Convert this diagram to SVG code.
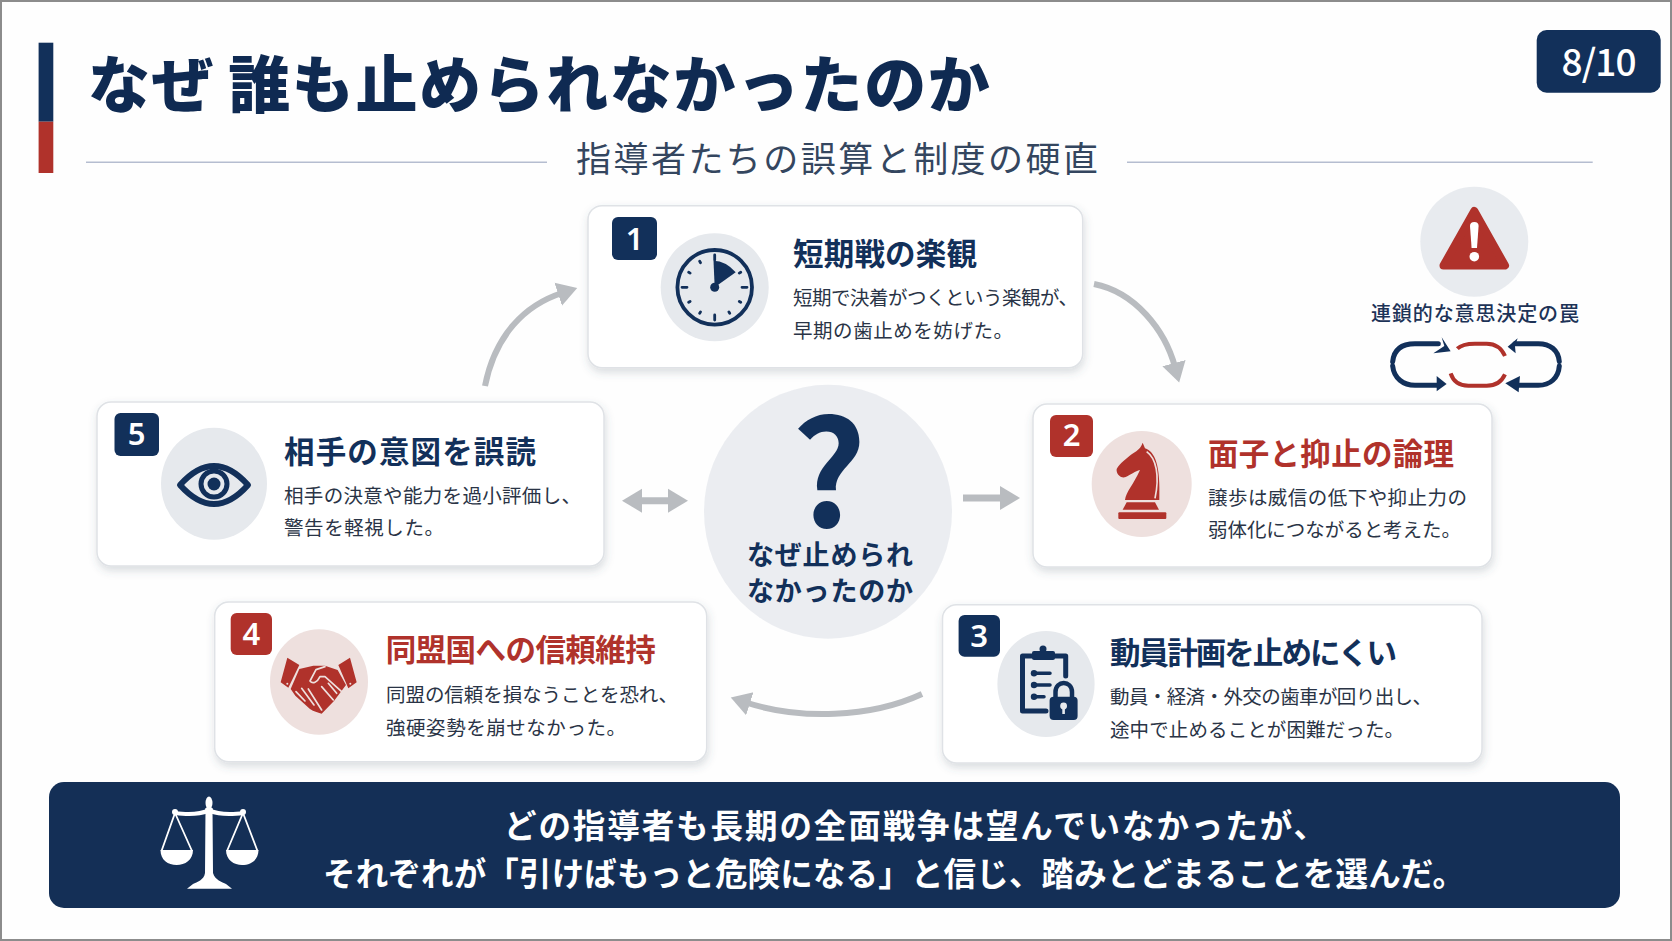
<svg xmlns="http://www.w3.org/2000/svg" width="1672" height="941" viewBox="0 0 1672 941">
<style>
text{font-family:"Noto Sans CJK JP","Noto Sans",sans-serif}
.card{fill:#fff;stroke:#dfe2e6;stroke-width:1.5;filter:url(#sh)}
.navy{fill:#12305a}.red{fill:#b0322b}
.gc{fill:#e6e9ed}.pc{fill:#eee0de}
.num{font-family:"Noto Sans",sans-serif;font-size:31px;font-weight:600;fill:#fff;text-anchor:middle}
.tn{font-size:30.5px;font-weight:700;fill:#12305a}
.tr{font-size:30.5px;font-weight:700;fill:#b0322b}
.body{font-size:19.5px;font-weight:400;fill:#2a3446}
.band{font-size:32.5px;font-weight:700;fill:#fff}
.conn{fill:none;stroke:#b9bcc0;stroke-width:6}
.sl{stroke:#b5bdd0;stroke-width:1.5}
.nl{fill:none;stroke:#12305a;stroke-linecap:round;stroke-linejoin:round}
.wl{fill:none;stroke:#fff;stroke-linecap:round;stroke-linejoin:round}
</style>
<defs>
<filter id="sh" x="-5%" y="-10%" width="110%" height="125%"><feDropShadow dx="1" dy="4" stdDeviation="4" flood-color="#4a5568" flood-opacity="0.2"/></filter>
<marker id="ah" markerUnits="userSpaceOnUse" markerWidth="24" markerHeight="26" refX="4" refY="13" orient="auto-start-reverse"><path d="M0 1L20 13L0 25z" fill="#b9bcc0"/></marker>
</defs>
<rect width="1672" height="941" fill="#fefefe"/>
<g id="header">
<rect x="38.6" y="42.7" width="14.7" height="79" class="navy"/>
<rect x="38.6" y="121.7" width="14.7" height="51.3" class="red"/>
<text x="88" y="108" font-size="62" font-weight="900" fill="#0f2a52" letter-spacing="1.6">なぜ<tspan dx="13">誰も止められなかったのか</tspan></text>
<line x1="86" y1="162.3" x2="547" y2="162.3" class="sl"/>
<line x1="1127" y1="162.3" x2="1592.7" y2="162.3" class="sl"/>
<text x="576" y="172" font-size="35" font-weight="400" fill="#34465f" textLength="522">指導者たちの誤算と制度の硬直</text>
</g>
<g id="page-badge">
<rect x="1536.7" y="30" width="124" height="62.7" rx="10" class="navy"/>
<text x="1599" y="76" font-family="Noto Sans" font-size="37" font-weight="500" fill="#fff" text-anchor="middle" textLength="75">8/10</text>
</g>
<g id="connectors">
<path class="conn" marker-end="url(#ah)" d="M485 386C495 335 525 305 562 293"/>
<path class="conn" marker-end="url(#ah)" d="M1094 284C1135 292 1165 330 1175 367"/>
<path class="conn" marker-end="url(#ah)" d="M922 694C870 718 800 720 746 702.5"/>
<path class="conn" style="stroke-width:7" marker-start="url(#ah)" marker-end="url(#ah)" d="M638 500.7H672"/>
<path class="conn" style="stroke-width:7" marker-end="url(#ah)" d="M963 498H1004"/>
</g>
<g id="node-center">
<ellipse cx="828" cy="511.7" rx="124" ry="127" class="gc" fill-opacity="0.8"/>
<text x="829" y="527" font-family="Lato" font-size="146" font-weight="700" text-anchor="middle" fill="#12305a">?</text>
<text x="747" y="565" font-size="27" font-weight="700" fill="#12305a" textLength="166">なぜ止められ</text>
<text x="747" y="600.7" font-size="27" font-weight="700" fill="#12305a" textLength="166">なかったのか</text>
</g>
<g id="node-1">
<rect x="588" y="205.7" width="494.7" height="162" rx="14" class="card"/>
<rect x="612" y="217" width="45" height="43" rx="6" class="navy"/>
<text x="634.5" y="250" class="num">1</text>
<circle cx="714.7" cy="287.3" r="54" class="gc"/>
<circle cx="714.7" cy="287.3" r="37.3" class="nl" stroke-width="3.8"/>
<path class="nl" stroke-width="2.8" d="M714.7 255V260M714.7 315V320M682 287.3H687M742 287.3H747M699.7 261.3l.8 1.4M740.7 272.300l-1.400.8M740.7 302.300l-1.400-.8M729.7 313.300l-.8-1.400M699.7 313.300l.8-1.400M688.7 302.300l1.400-.8M688.7 272.300l1.400.8"/>
<path d="M714.7 287.3L713.5 260.7Q726 261 735.7 272.3Z" class="navy"/>
<circle cx="714.7" cy="287.3" r="4.5" class="navy"/>
<text x="793" y="265" class="tn" textLength="184">短期戦の楽観</text>
<text x="793" y="304.500" class="body" textLength="285">短期で決着がつくという楽観が、</text>
<text x="793" y="338" class="body" textLength="220">早期の歯止めを妨げた。</text>
</g>
<g id="node-2">
<rect x="1033" y="404" width="459" height="163" rx="14" class="card"/>
<rect x="1050" y="415" width="43" height="42" rx="6" class="red"/>
<text x="1071.5" y="446" class="num">2</text>
<ellipse cx="1141.7" cy="484" rx="50" ry="53" class="pc"/>
<g transform="translate(1030 395) scale(.3333)">
<path class="red" d="M338 143L345 160C375 170 392 210 388 315H285C288 290 310 270 330 225C315 228 305 238 285 247C270 250 258 235 260 222C270 205 290 190 305 178C318 168 330 165 338 143Z"/>
<path fill="none" stroke="#eee0de" stroke-width="5" d="M350 170C378 190 390 240 375 310"/>
<path class="red" d="M290 322H375L387 344H278Z"/>
<rect x="265" y="352" width="144" height="20" rx="3" class="red"/>
</g>
<text x="1208" y="464.500" class="tr" textLength="246">面子と抑止の論理</text>
<text x="1208" y="504.500" class="body" textLength="259">譲歩は威信の低下や抑止力の</text>
<text x="1208" y="537" class="body" textLength="253">弱体化につながると考えた。</text>
</g>
<g id="node-3">
<rect x="942.5" y="604.7" width="539.5" height="158.3" rx="14" class="card"/>
<rect x="958.6" y="615" width="41.4" height="41.7" rx="6" class="navy"/>
<text x="979" y="646.500" class="num">3</text>
<ellipse cx="1046" cy="684" rx="48.6" ry="53" class="gc"/>
<path class="nl" stroke-width="5" d="M1065.7 676V656H1022.5V711H1046"/>
<rect x="1032" y="651" width="23" height="9" rx="2" class="navy"/>
<circle cx="1043" cy="649" r="3.5" class="navy"/>
<path class="nl" stroke-width="3.5" d="M1034 673.3H1050M1034 685H1050M1034 696.7H1044"/>
<circle cx="1034" cy="673.3" r="3.2" class="navy"/><circle cx="1034" cy="685" r="3.2" class="navy"/><circle cx="1034" cy="696.7" r="3.2" class="navy"/>
<path class="nl" stroke-width="4.5" d="M1055.5 698V692C1055.5 680 1072 680 1072 692V698"/>
<rect x="1049.6" y="696.7" width="28" height="23.3" rx="4" class="navy"/>
<circle cx="1063.6" cy="706" r="3.4" fill="#e6e9ed"/><rect x="1062.3" y="706" width="2.6" height="8" fill="#e6e9ed"/>
<text x="1110" y="663.700" class="tn" textLength="287">動員計画を止めにくい</text>
<text x="1110" y="703.500" class="body" textLength="322">動員・経済・外交の歯車が回り出し、</text>
<text x="1110" y="736.500" class="body" textLength="294">途中で止めることが困難だった。</text>
</g>
<g id="node-4">
<rect x="214.7" y="602" width="492" height="159.7" rx="14" class="card"/>
<rect x="230.7" y="613" width="41.3" height="42" rx="6" class="red"/>
<text x="251.4" y="645" class="num">4</text>
<ellipse cx="319" cy="682" rx="49" ry="52.7" class="pc"/>
<g transform="translate(210 595) scale(.3333)">
<path class="red" d="M232 188L268 210L235 278L212 262ZM385 210L420 188L440 262L415 280Z"/>
<path class="red" d="M268 222L310 212H345L383 225L408 270L372 318L335 356C322 352 312 350 300 342L256 302L242 282Z"/>
<path class="wl" style="stroke:#eee0de" stroke-width="5" d="M345 215L318 224L300 258C308 268 322 262 330 245L345 245L395 290M355 265L380 295M335 275L370 315M258 290L285 318M275 280L312 330M295 282L335 345"/>
<circle cx="232" cy="266" r="3" fill="#eee0de"/><circle cx="421" cy="266" r="3" fill="#eee0de"/>
</g>
<text x="385.7" y="661" class="tr" textLength="270">同盟国への信頼維持</text>
<text x="386" y="702" class="body" textLength="292">同盟の信頼を損なうことを恐れ、</text>
<text x="386" y="734.5" class="body" textLength="240">強硬姿勢を崩せなかった。</text>
</g>
<g id="node-5">
<rect x="97" y="402" width="507" height="164" rx="14" class="card"/>
<rect x="114.5" y="413" width="44.5" height="43" rx="6" class="navy"/>
<text x="136.7" y="445" class="num">5</text>
<ellipse cx="214" cy="483.7" rx="53" ry="56" class="gc"/>
<path class="nl" stroke-width="6" d="M180 485Q214 447 248 485Q214 523 180 485Z"/>
<circle cx="214" cy="484" r="13" class="nl" stroke-width="5"/>
<circle cx="214" cy="484" r="6.5" class="navy"/>
<text x="284" y="463" class="tn" textLength="252">相手の意図を誤読</text>
<text x="284" y="503" class="body" textLength="297">相手の決意や能力を過小評価し、</text>
<text x="284" y="535" class="body" textLength="160">警告を軽視した。</text>
</g>
<g id="trap-note">
<ellipse cx="1474.3" cy="241.7" rx="54" ry="55" class="gc" fill-opacity="0.9"/>
<path class="red" stroke="#b0322b" stroke-width="8" stroke-linejoin="round" d="M1474.3 211L1505 265.5H1443.5Z"/>
<path fill="#fff" d="M1470 226Q1470 222 1474.3 222Q1478.6 222 1478.6 226L1477 248H1471.6Z"/>
<circle cx="1474.3" cy="256.7" r="4.8" fill="#fff"/>
<text x="1475" y="320.500" font-size="20" font-weight="500" fill="#1d3357" text-anchor="middle" textLength="208">連鎖的な意思決定の罠</text>
<g transform="translate(1340 20) scale(.3333)">
<path class="nl" stroke-linecap="butt" stroke-width="15" d="M158 1025C162 985 190 971 225 971H295"/>
<path class="navy" d="M332 994L305 952L313 978L280 1000Z"/>
<path class="nl" stroke-linecap="butt" stroke-width="15" d="M158 1038C162 1075 190 1096 225 1096H292"/>
<path class="navy" d="M320 1092L290 1068V1114Z"/>
<path fill="none" stroke="#b0322b" stroke-width="12" d="M352 986C365 973 385 971 405 971H440C465 971 485 985 495 1008"/>
<path fill="none" stroke="#b0322b" stroke-width="12" d="M332 1060C340 1085 360 1097 385 1097H440C465 1097 485 1085 495 1063"/>
<path class="nl" stroke-linecap="butt" stroke-width="15" d="M658 1025C655 990 630 971 595 971H525"/>
<path class="navy" d="M503 980L533 955L525 978L527 1000Z"/>
<path class="nl" stroke-linecap="butt" stroke-width="15" d="M658 1038C655 1075 630 1096 595 1096H535"/>
<path class="navy" d="M496 1090L540 1068L536 1117Z"/>
</g>
</g>
<g id="conclusion">
<rect x="49" y="782" width="1571" height="126" rx="15" fill="#142f56"/>
<g fill="#fff">
<path d="M205.500 808H212.500L213 873C215 880 222 882 226 884L232 888.700H187L193 884C197 882 204 880 205 873Z"/>
<ellipse cx="209" cy="803" rx="3.500" ry="6.500"/>
<circle cx="209" cy="811" r="4"/>
<path d="M175 811C190 813 200 812 209 808C218 812 228 813 244 811V815C228 817 218 816 209 813C200 816 190 817 175 815Z"/>
<circle cx="175" cy="812" r="3"/><circle cx="243" cy="812" r="3"/>
<path d="M160.500 850H193C193 860 185 865 176.700 865C168 865 160.500 860 160.500 850ZM226 850H258.500C258.500 860 251 865 242 865C234 865 226 860 226 850Z"/>
</g>
<path fill="none" stroke="#fff" stroke-width="1.800" d="M175 813L161.500 851M175 813L192 851M243 813L227 851M243 813L257.500 851"/>
<text x="504" y="838" class="band" textLength="822">どの指導者も長期の全面戦争は望んでいなかったが、</text>
<text x="323" y="886" class="band" textLength="1142">それぞれが「引けばもっと危険になる」と信じ、踏みとどまることを選んだ。</text>
</g>
<rect x="1" y="1" width="1670" height="939" fill="none" stroke="#8c8c8c" stroke-width="2"/>
</svg>
